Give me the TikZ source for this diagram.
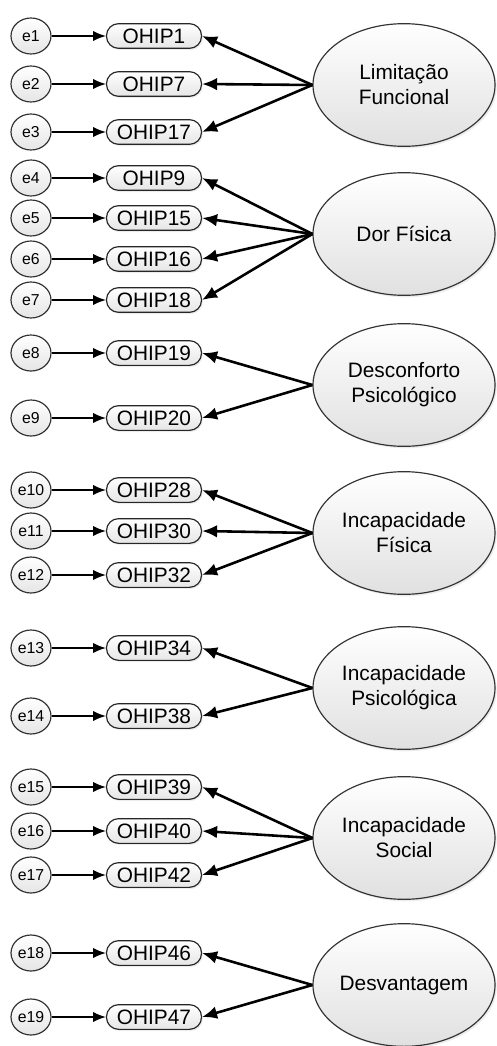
\documentclass[tikz,border=0pt]{standalone}
\usepackage{fontspec}
\setmainfont{Liberation Sans}
\usepackage{tikz}
\usetikzlibrary{arrows.meta,positioning,shapes.geometric,shadows}

\begin{document}
\begin{tikzpicture}[>=Latex,
  errnode/.style={draw=black!80,line width=1pt,ellipse,minimum width=1.2cm,minimum height=1.08cm,inner sep=0pt,top color=white,bottom color=black!10,font=\fontsize{13.5}{16}\selectfont},
  obsnode/.style={draw=black!85,line width=1pt,rounded corners=0.36cm,minimum width=2.85cm,minimum height=0.74cm,inner sep=0pt,top color=white,bottom color=black!10,drop shadow={shadow xshift=0.04cm,shadow yshift=-0.05cm,opacity=0.15},font=\fontsize{17.8}{21}\selectfont},
  latnode/.style={draw=black!80,line width=1pt,ellipse,minimum width=5.46cm,minimum height=3.68cm,inner sep=0pt,align=center,top color=white,bottom color=black!12,drop shadow={shadow xshift=0.05cm,shadow yshift=-0.06cm,opacity=0.15},font=\fontsize{17.8}{21.3}\selectfont},
  errarrow/.style={line width=1.1pt,-{Latex[length=0.38cm,width=0.3cm]}},
  latarrow/.style={line width=2.2pt,-{Latex[length=0.45cm,width=0.38cm]}}]
\useasboundingbox (0,0) rectangle (14.88,-31.38);
% latent factors
\node[latnode] (f1) at (12.12,-2.55) {Limitação\\Funcional};
\node[latnode] (f2) at (12.12,-7.02) {Dor Física};
\node[latnode] (f3) at (12.12,-11.55) {Desconforto\\Psicológico};
\node[latnode] (f4) at (12.12,-15.99) {Incapacidade\\Física};
\node[latnode] (f5) at (12.12,-20.64) {Incapacidade\\Psicológica};
\node[latnode] (f6) at (12.12,-25.14) {Incapacidade\\Social};
\node[latnode] (f7) at (12.12,-29.55) {Desvantagem};
% items
\node[obsnode] (v1) at (4.62,-1.08) {OHIP1};
\node[obsnode] (v2) at (4.62,-2.52) {OHIP7};
\node[obsnode] (v3) at (4.62,-3.96) {OHIP17};
\node[obsnode] (v4) at (4.62,-5.34) {OHIP9};
\node[obsnode] (v5) at (4.62,-6.54) {OHIP15};
\node[obsnode] (v6) at (4.62,-7.77) {OHIP16};
\node[obsnode] (v7) at (4.62,-9.00) {OHIP18};
\node[obsnode] (v8) at (4.62,-10.59) {OHIP19};
\node[obsnode] (v9) at (4.62,-12.54) {OHIP20};
\node[obsnode] (v10) at (4.62,-14.70) {OHIP28};
\node[obsnode] (v11) at (4.62,-15.93) {OHIP30};
\node[obsnode] (v12) at (4.62,-17.25) {OHIP32};
\node[obsnode] (v13) at (4.62,-19.44) {OHIP34};
\node[obsnode] (v14) at (4.62,-21.48) {OHIP38};
\node[obsnode] (v15) at (4.62,-23.61) {OHIP39};
\node[obsnode] (v16) at (4.62,-24.93) {OHIP40};
\node[obsnode] (v17) at (4.62,-26.25) {OHIP42};
\node[obsnode] (v18) at (4.62,-28.59) {OHIP46};
\node[obsnode] (v19) at (4.62,-30.51) {OHIP47};
% error terms
\node[errnode] (e1) at (0.93,-1.08) {e1};
\node[errnode] (e2) at (0.93,-2.52) {e2};
\node[errnode] (e3) at (0.93,-3.96) {e3};
\node[errnode] (e4) at (0.93,-5.34) {e4};
\node[errnode] (e5) at (0.93,-6.54) {e5};
\node[errnode] (e6) at (0.93,-7.77) {e6};
\node[errnode] (e7) at (0.93,-9.00) {e7};
\node[errnode] (e8) at (0.93,-10.59) {e8};
\node[errnode] (e9) at (0.93,-12.54) {e9};
\node[errnode] (e10) at (0.93,-14.70) {e10};
\node[errnode] (e11) at (0.93,-15.93) {e11};
\node[errnode] (e12) at (0.93,-17.25) {e12};
\node[errnode] (e13) at (0.93,-19.44) {e13};
\node[errnode] (e14) at (0.93,-21.48) {e14};
\node[errnode] (e15) at (0.93,-23.61) {e15};
\node[errnode] (e16) at (0.93,-24.93) {e16};
\node[errnode] (e17) at (0.93,-26.25) {e17};
\node[errnode] (e18) at (0.93,-28.59) {e18};
\node[errnode] (e19) at (0.93,-30.51) {e19};
% error arrows
\draw[errarrow] (e1.east)--(v1.west);
\draw[errarrow] (e2.east)--(v2.west);
\draw[errarrow] (e3.east)--(v3.west);
\draw[errarrow] (e4.east)--(v4.west);
\draw[errarrow] (e5.east)--(v5.west);
\draw[errarrow] (e6.east)--(v6.west);
\draw[errarrow] (e7.east)--(v7.west);
\draw[errarrow] (e8.east)--(v8.west);
\draw[errarrow] (e9.east)--(v9.west);
\draw[errarrow] (e10.east)--(v10.west);
\draw[errarrow] (e11.east)--(v11.west);
\draw[errarrow] (e12.east)--(v12.west);
\draw[errarrow] (e13.east)--(v13.west);
\draw[errarrow] (e14.east)--(v14.west);
\draw[errarrow] (e15.east)--(v15.west);
\draw[errarrow] (e16.east)--(v16.west);
\draw[errarrow] (e17.east)--(v17.west);
\draw[errarrow] (e18.east)--(v18.west);
\draw[errarrow] (e19.east)--(v19.west);
% loadings
\draw[latarrow] (f1.west)--(v1.east);
\draw[latarrow] (f1.west)--(v2.east);
\draw[latarrow] (f1.west)--(v3.east);
\draw[latarrow] (f2.west)--(v4.east);
\draw[latarrow] (f2.west)--(v5.east);
\draw[latarrow] (f2.west)--(v6.east);
\draw[latarrow] (f2.west)--(v7.east);
\draw[latarrow] (f3.west)--(v8.east);
\draw[latarrow] (f3.west)--(v9.east);
\draw[latarrow] (f4.west)--(v10.east);
\draw[latarrow] (f4.west)--(v11.east);
\draw[latarrow] (f4.west)--(v12.east);
\draw[latarrow] (f5.west)--(v13.east);
\draw[latarrow] (f5.west)--(v14.east);
\draw[latarrow] (f6.west)--(v15.east);
\draw[latarrow] (f6.west)--(v16.east);
\draw[latarrow] (f6.west)--(v17.east);
\draw[latarrow] (f7.west)--(v18.east);
\draw[latarrow] (f7.west)--(v19.east);
\end{tikzpicture}
\end{document}
